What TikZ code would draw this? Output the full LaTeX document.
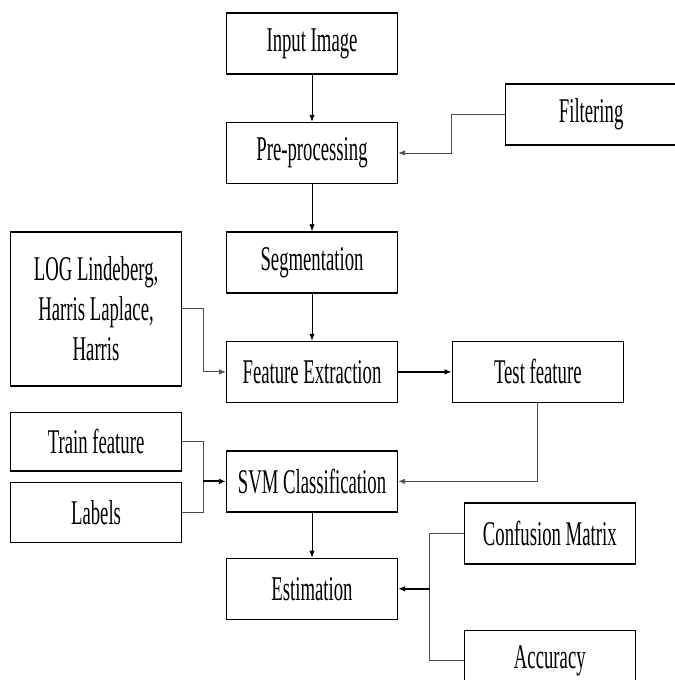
\documentclass[tikz,border=0pt]{standalone}
\usepackage{fontspec}
\setmainfont{Liberation Serif}[FakeStretch=0.54]
\usetikzlibrary{arrows.meta, positioning}

\begin{document}
\begin{tikzpicture}[
  node distance=35.25pt,
  box/.style={draw, line width=1.1pt, align=center, minimum height=45.75pt,
    minimum width=128.25pt, inner sep=2pt, font=\fontsize{26}{30}\selectfont},
  arr/.style={-{Latex[length=1.8mm, width=1.4mm]}, line width=0.6pt},
  thickarr/.style={-{Latex[length=1.8mm, width=1.5mm]}, line width=1.3pt},
  link/.style={line width=0.6pt, draw=black!70}
]
\useasboundingbox (0,0) rectangle (505.5pt,-510pt);
\node[box] (input) at (234pt,-32.6pt) {Input Image};
\node[box, below=of input] (pre) {Pre-processing};
\node[box, below=of pre] (seg) {Segmentation};
\node[box, below=of seg] (feat) {Feature Extraction};
\node[box, below=of feat] (svm) {SVM Classification};
\node[box, below=of svm, yshift=1.5pt] (est) {Estimation};

\node[box, right=80pt of pre, yshift=28.9pt] (filter) {Filtering};
\node[box, left=32.6pt of feat, yshift=47.25pt, minimum height=115.5pt] (log)
  {LOG Lindeberg,\\ Harris Laplace,\\ Harris};
\node[box, right=40pt of feat] (test) {Test feature};
\node[box, left=32.6pt of svm, yshift=29.6pt, minimum height=44pt] (train) {Train feature};
\node[box, below=7.5pt of train, minimum height=45pt] (labels) {Labels};
\node[box, right=49pt of est, yshift=41.6pt] (conf) {Confusion Matrix};
\node[box, below=48.75pt of conf] (acc) {Accuracy};

% main column
\draw[arr] (input) -- (pre);
\draw[arr] (pre) -- (seg);
\draw[arr] (seg) -- (feat);
\draw[arr] (svm) -- (est);
\draw[thickarr] (feat) -- (test);

% side inputs
\draw[link, arr] (filter.west) -- ++(-40.5pt,0) |- (pre.east);
\draw[link, arr] (log.east) -- ++(15.75pt,0) |- (feat.west);
\draw[link, arr] (test.south) |- (svm.east);
\draw[link] (train.east) -- ++(15.75pt,0) coordinate (tj) |- (labels.east);
\draw[thickarr] (tj |- svm.west) -- (svm.west);
\draw[link] (conf.west) -- ++(-25.5pt,0) coordinate (cj) |- (acc.west);
\draw[thickarr] (cj |- est.east) -- (est.east);
\end{tikzpicture}
\end{document}
